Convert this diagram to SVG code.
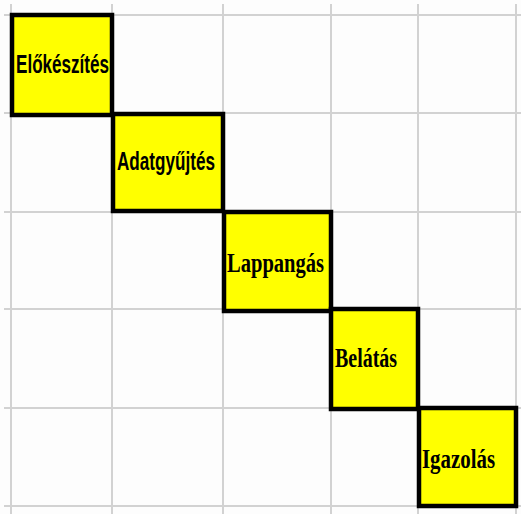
<svg xmlns="http://www.w3.org/2000/svg" width="521" height="514" viewBox="0 0 521 514">
<style>
.grid line{stroke:#d2d2d2;stroke-width:2}
.box{fill:#ffff00;stroke:#000;stroke-width:4.5}
.sans{font-family:"Liberation Sans Narrow","Liberation Sans",Arial,sans-serif;font-weight:bold;font-size:26px;fill:#000}
.serif{font-family:"Liberation Serif","Times New Roman",serif;font-weight:bold;font-size:28px;fill:#000}
</style>
<rect width="521" height="514" fill="#fdfdfd"/>
<g class="grid" id="grid">
<line x1="11" y1="4" x2="11" y2="514"/>
<line x1="112" y1="4" x2="112" y2="514"/>
<line x1="223" y1="4" x2="223" y2="514"/>
<line x1="331" y1="4" x2="331" y2="514"/>
<line x1="418" y1="4" x2="418" y2="514"/>
<line x1="516" y1="4" x2="516" y2="514"/>
<line x1="4" y1="15" x2="521" y2="15"/>
<line x1="4" y1="113" x2="521" y2="113"/>
<line x1="4" y1="212" x2="521" y2="212"/>
<line x1="4" y1="309" x2="521" y2="309"/>
<line x1="4" y1="408" x2="521" y2="408"/>
<line x1="4" y1="506" x2="521" y2="506"/>
</g>
<g id="connectors"></g>
<g id="n1"><rect class="box" x="12" y="15" width="100" height="100"/><text class="sans" x="16" y="73" textLength="93" lengthAdjust="spacingAndGlyphs">Előkészítés</text></g>
<g id="n2"><rect class="box" x="113" y="114" width="110" height="97"/><text class="sans" x="117" y="170" textLength="98" lengthAdjust="spacingAndGlyphs">Adatgyűjtés</text></g>
<g id="n3"><rect class="box" x="224" y="212" width="107" height="99"/><text class="serif" x="227" y="272" textLength="97" lengthAdjust="spacingAndGlyphs">Lappangás</text></g>
<g id="n4"><rect class="box" x="331" y="309" width="87" height="100"/><text class="serif" x="335" y="367" textLength="62" lengthAdjust="spacingAndGlyphs">Belátás</text></g>
<g id="n5"><rect class="box" x="419" y="408" width="97" height="98"/><text class="serif" x="422" y="468" textLength="73" lengthAdjust="spacingAndGlyphs">Igazolás</text></g>
</svg>
